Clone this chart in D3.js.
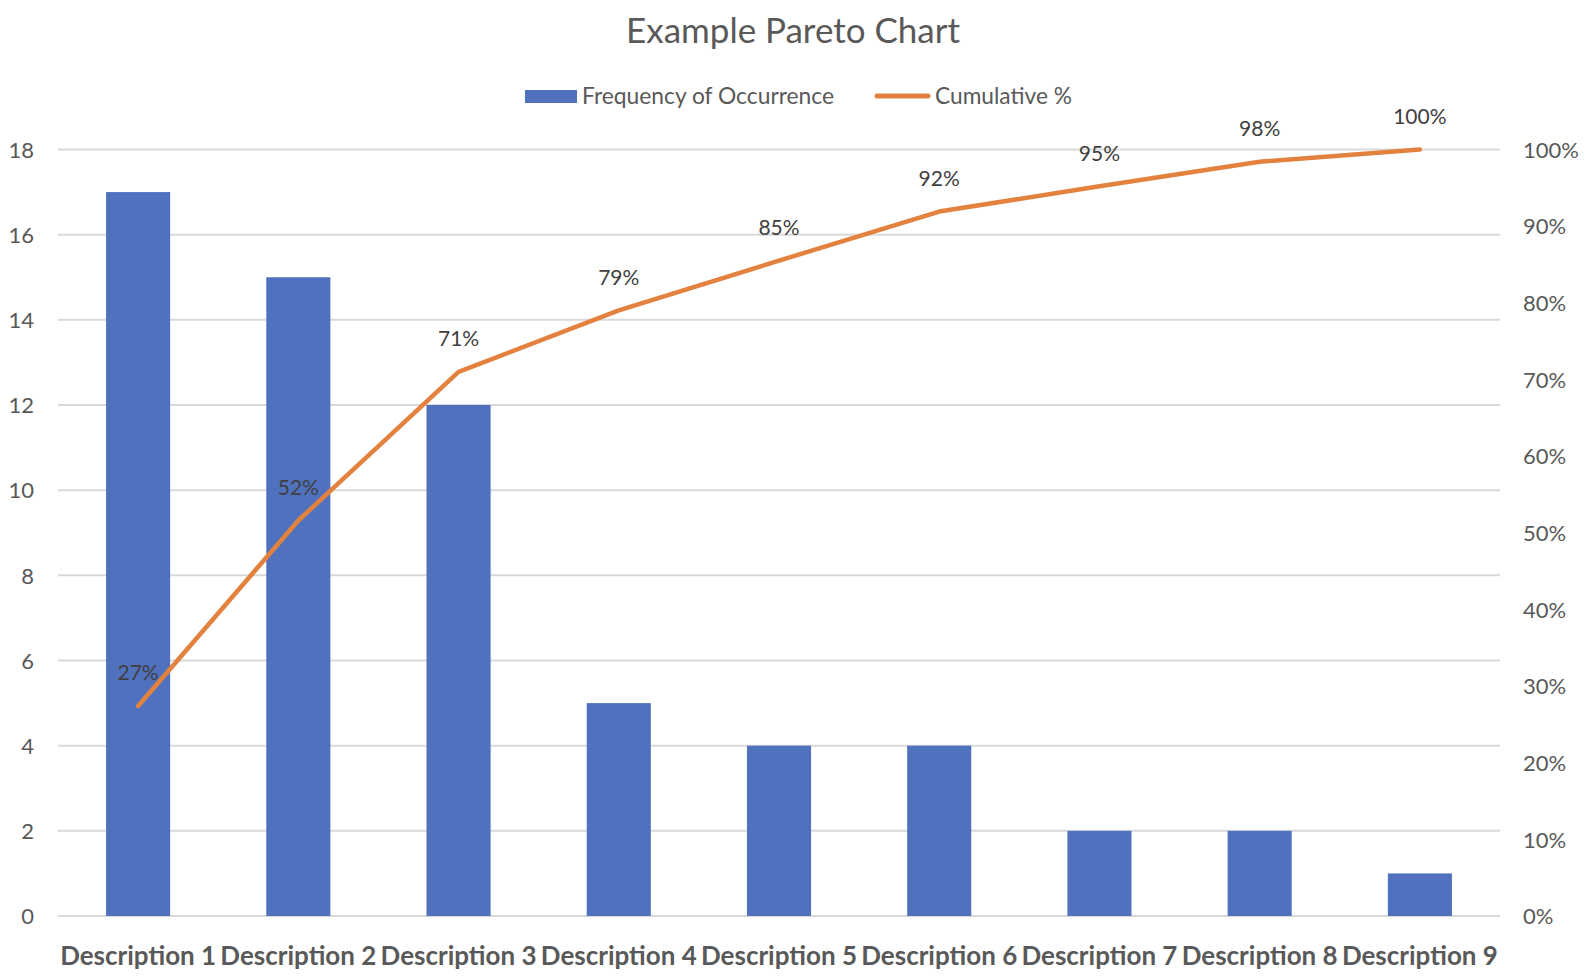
<!DOCTYPE html>
<html>
<head>
<meta charset="utf-8">
<script src="https://cdn.jsdelivr.net/npm/d3@7"></script>
<style>
  html, body { margin: 0; padding: 0; background: #fff; }
  svg { display: block; }
</style>
</head>
<body>
<script>
// ---- data ----
const categories = ["Description 1","Description 2","Description 3","Description 4","Description 5","Description 6","Description 7","Description 8","Description 9"];
const frequency = [17, 15, 12, 5, 4, 4, 2, 2, 1];
const cumulativePct = [27.4, 51.6, 71.0, 79.0, 85.5, 91.9, 95.2, 98.4, 100];
const cumulativeLabels = ["27%","52%","71%","79%","85%","92%","95%","98%","100%"];
const leftTicks = [0, 2, 4, 6, 8, 10, 12, 14, 16, 18];
const rightTicks = [0, 10, 20, 30, 40, 50, 60, 70, 80, 90, 100];
const seriesNames = ["Frequency of Occurrence", "Cumulative %"];
const titleText = "Example Pareto Chart";

// ---- layout ----
const W = 1594, H = 980;
const plot = { left: 58, right: 1500, top: 149.5, bottom: 916 };
const FONT = "Lato, 'Open Sans', sans-serif";
const barColor = "#4F71BE", lineColor = "#E3823F", gridColor = "#D9D9D9";

const svg = d3.select("body").append("svg").attr("width", W).attr("height", H);

const x = d3.scaleBand().domain(categories).range([plot.left, plot.right]).paddingInner(0.6).paddingOuter(0.3);
const yL = d3.scaleLinear().domain([0, 18]).range([plot.bottom, plot.top]);
const yR = d3.scaleLinear().domain([0, 100]).range([plot.bottom, plot.top]);

function fitWidth(sel, target) {
  const node = sel.node();
  const fs = parseFloat(sel.attr("font-size"));
  const w = node.getComputedTextLength();
  if (w > 0) sel.attr("font-size", (fs * target / w).toFixed(2));
  return sel;
}

// gridlines
svg.append("g").selectAll("line").data(leftTicks).join("line")
  .attr("x1", plot.left).attr("x2", plot.right)
  .attr("y1", d => yL(d)).attr("y2", d => yL(d))
  .attr("stroke", gridColor).attr("stroke-width", 2);

// left axis
const leftAxis = d3.axisLeft(yL).tickValues(leftTicks).tickSize(0).tickPadding(0);
const gl = svg.append("g").attr("transform", `translate(34,0)`).call(leftAxis);
gl.select(".domain").remove();
gl.selectAll("text").attr("font-family", FONT).attr("font-size", 22).attr("fill", "#595959").attr("dy", "0.35em");

// right axis
const rightAxis = d3.axisRight(yR).tickValues(rightTicks).tickSize(0).tickPadding(0).tickFormat(d => d + "%");
const gr = svg.append("g").attr("transform", `translate(1523,0)`).call(rightAxis);
gr.select(".domain").remove();
gr.selectAll("text").attr("font-family", FONT).attr("font-size", 22).attr("fill", "#595959").attr("dy", "0.35em");

// bars
svg.append("g").selectAll("rect").data(frequency).join("rect")
  .attr("x", (d, i) => x(categories[i]))
  .attr("width", x.bandwidth())
  .attr("y", d => yL(d))
  .attr("height", d => yL(0) - yL(d))
  .attr("fill", barColor);

// cumulative line
const cx = i => x(categories[i]) + x.bandwidth() / 2;
const line = d3.line().x((d, i) => cx(i)).y(d => yR(d));
svg.append("path").datum(cumulativePct)
  .attr("d", line).attr("fill", "none")
  .attr("stroke", lineColor).attr("stroke-width", 4.5)
  .attr("stroke-linecap", "round").attr("stroke-linejoin", "round");

// data labels
svg.append("g").selectAll("text").data(cumulativePct).join("text")
  .attr("x", (d, i) => cx(i))
  .attr("y", d => yR(d) - 33)
  .attr("dy", "0.35em")
  .attr("text-anchor", "middle")
  .attr("font-family", FONT).attr("font-size", 21).attr("fill", "#404040")
  .text((d, i) => cumulativeLabels[i]);

// bottom category axis
const bottomAxis = d3.axisBottom(x).tickSize(0).tickPadding(0);
const gb = svg.append("g").attr("transform", `translate(0,956)`).call(bottomAxis);
gb.select(".domain").remove();
gb.selectAll("text").attr("font-family", FONT).attr("font-weight", "bold")
  .attr("font-size", 22).attr("fill", "#595959").attr("dy", "0.35em")
  .each(function() { fitWidth(d3.select(this), 156); });

// title
const t = svg.append("text").attr("x", 793).attr("y", 31).attr("dy", "0.35em")
  .attr("text-anchor", "middle").attr("font-family", FONT).attr("font-size", 30)
  .attr("fill", "#595959").text(titleText);
fitWidth(t, 334);

// legend
const lg = svg.append("g");
lg.append("rect").attr("x", 525).attr("y", 90).attr("width", 52).attr("height", 13).attr("fill", barColor);
const l1 = lg.append("text").attr("x", 582).attr("y", 96).attr("dy", "0.35em")
  .attr("font-family", FONT).attr("font-size", 21).attr("fill", "#595959").text(seriesNames[0]);
fitWidth(l1, 252);
lg.append("line").attr("x1", 877).attr("x2", 928).attr("y1", 96).attr("y2", 96)
  .attr("stroke", lineColor).attr("stroke-width", 5).attr("stroke-linecap", "round");
const l2 = lg.append("text").attr("x", 935).attr("y", 96).attr("dy", "0.35em")
  .attr("font-family", FONT).attr("font-size", 21).attr("fill", "#595959").text(seriesNames[1]);
fitWidth(l2, 137);
</script>
</body>
</html>
